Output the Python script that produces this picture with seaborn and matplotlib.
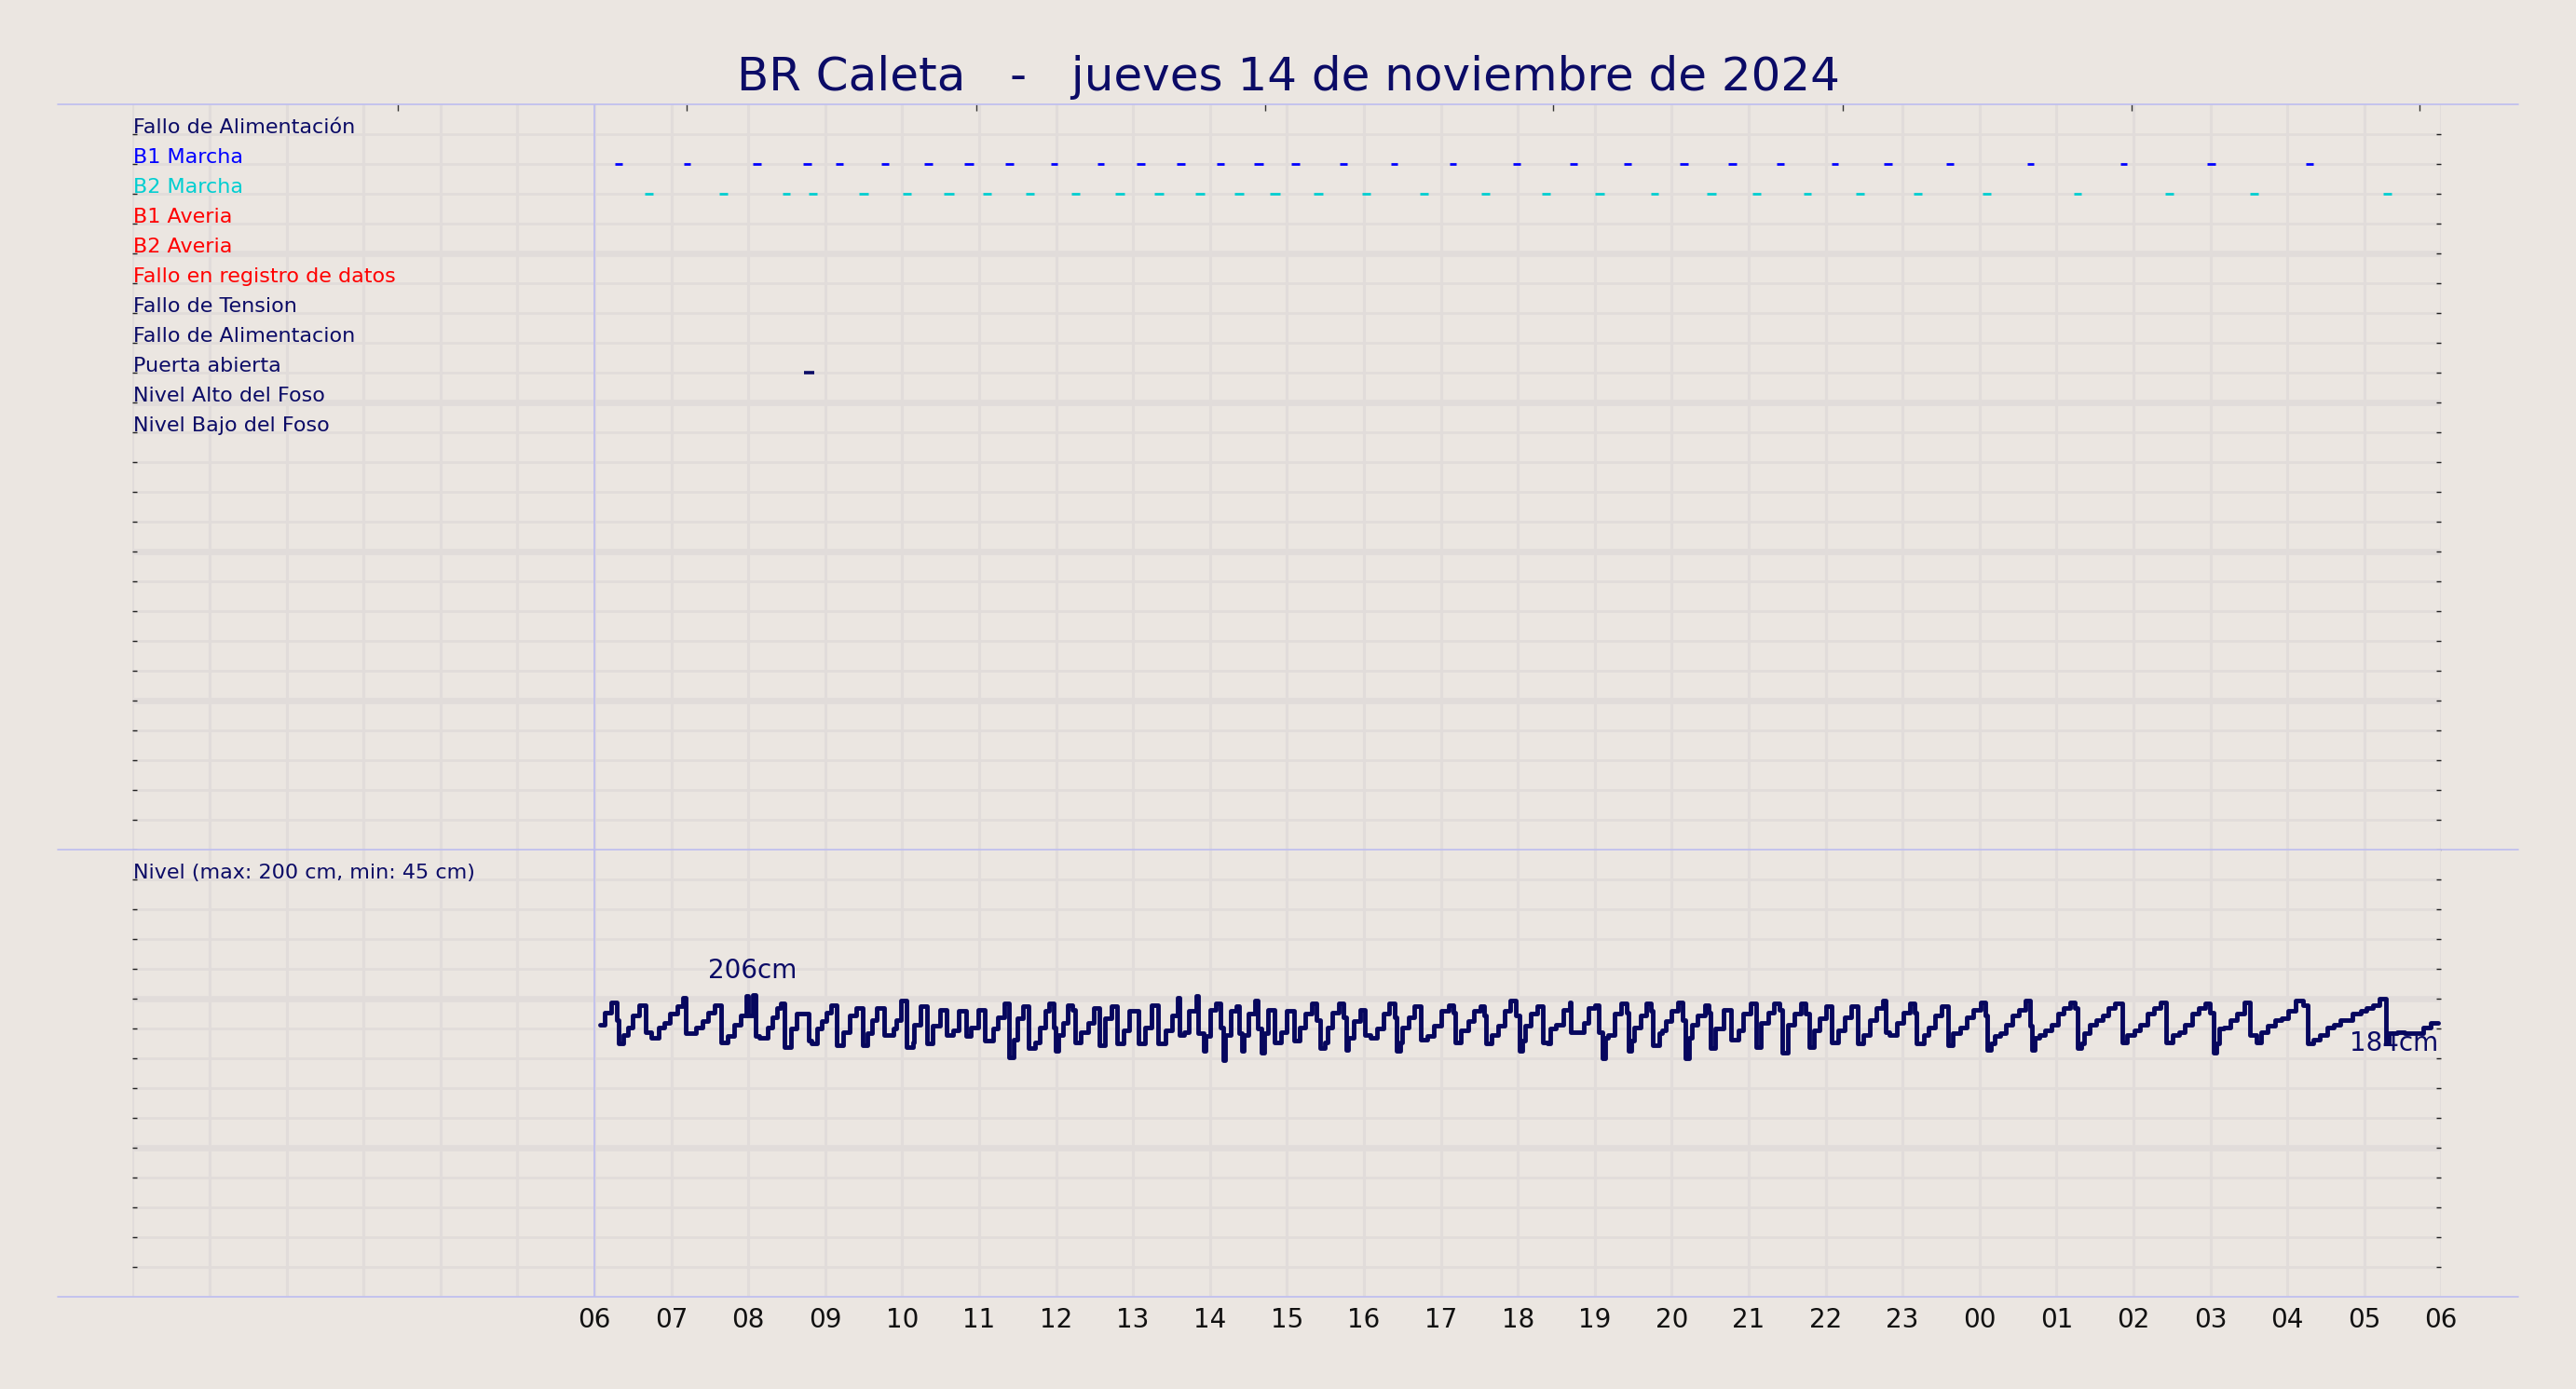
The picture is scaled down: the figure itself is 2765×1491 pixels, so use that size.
import matplotlib
matplotlib.use("Agg")
import matplotlib.pyplot as plt
from matplotlib.lines import Line2D
import seaborn as sns
import numpy as np
import pandas as pd

# ---------------- data ----------------
title = "BR Caleta   -   jueves 14 de noviembre de 2024"

channel_labels = ["Fallo de Alimentación", "B1 Marcha", "B2 Marcha", "B1 Averia",
                  "B2 Averia", "Fallo en registro de datos", "Fallo de Tension",
                  "Fallo de Alimentacion", "Puerta abierta", "Nivel Alto del Foso",
                  "Nivel Bajo del Foso"]
channel_colors = ["#0B0B66", "#0000FF", "#00CED1", "#FF0000", "#FF0000", "#FF0000",
                  "#0B0B66", "#0B0B66", "#0B0B66", "#0B0B66", "#0B0B66"]

hour_labels = ["06", "07", "08", "09", "10", "11", "12", "13", "14", "15", "16", "17",
               "18", "19", "20", "21", "22", "23", "00", "01", "02", "03", "04", "05", "06"]

# pump runs: centre (minutes after 06:00) and duration (minutes)
b1_center = [19.0, 72.2, 126.9, 166.2, 191.2, 226.9, 260.7, 292.2, 323.6, 358.4, 394.9,
             426.0, 457.4, 488.0, 518.1, 546.8, 584.3, 623.7, 669.5, 719.0, 763.6, 805.8,
             849.8, 887.4, 925.0, 967.2, 1008.9, 1057.1, 1119.7, 1192.5, 1260.7, 1337.2]
b1_dur = [5.6, 5.6, 6.5, 6.5, 5.6, 5.6, 6.5, 7.4, 6.5, 5.6, 5.6, 6.5, 6.5, 5.6, 7.4, 6.5,
          5.6, 5.6, 5.6, 5.6, 5.6, 5.6, 6.5, 6.5, 5.6, 5.6, 6.5, 5.6, 5.6, 5.6, 6.5, 5.6]
b2_center = [42.6, 100.9, 149.5, 170.4, 210.2, 244.0, 276.4, 306.5, 339.8, 375.5, 409.8,
             440.3, 472.3, 502.8, 530.6, 564.4, 601.9, 646.8, 694.5, 742.3, 784.0, 826.7,
             871.2, 905.9, 945.8, 986.6, 1031.6, 1085.9, 1156.3, 1227.8, 1294.1, 1397.9]
b2_dur = [6.5, 6.5, 5.6, 6.5, 7.4, 6.5, 7.4, 6.5, 6.5, 6.5, 7.4, 7.4, 7.4, 7.4, 8.3, 7.4,
          6.5, 6.5, 6.5, 6.5, 7.4, 6.5, 7.4, 6.5, 6.5, 6.5, 6.5, 6.5, 5.6, 6.5, 6.5, 6.5]
door_center = [167.4]
door_dur = [8.4]

# level (minutes after 06:00, cm)
level_min = [
    4.1, 7.8, 13.1, 17.5, 18.9, 22.3, 25.9, 29.6, 34.9, 39.8,
    44.1, 50.4, 54.3, 59.1, 64.7, 69.1, 71.3, 79.3, 84.1, 88.9,
    93.8, 98.6, 104.2, 109.1, 113.9, 118.5, 120.2, 123.6, 125.8, 128.9,
    135.0, 138.6, 142.3, 145.4, 148.3, 153.2, 158.0, 167.2, 169.6, 173.8,
    177.4, 181.0, 184.7, 189.0, 194.3, 199.2, 204.0, 208.9, 212.5, 216.2,
    219.8, 225.8, 233.1, 235.5, 239.2, 243.3, 248.1, 249.1, 253.9, 259.0,
    263.6, 269.4, 274.8, 279.6, 284.0, 290.0, 293.7, 299.0, 304.6, 310.6,
    314.5, 319.4, 323.2, 327.1, 330.0, 333.9, 338.7, 343.6, 347.0, 351.8,
    354.7, 358.1, 359.6, 362.0, 365.4, 369.3, 372.7, 375.1, 379.4, 384.8,
    389.6, 394.0, 397.9, 403.2, 407.5, 412.4, 417.2, 424.5, 429.4, 434.7,
    439.5, 445.4, 450.2, 454.6, 456.0, 459.9, 463.8, 469.3, 470.5, 475.4,
    476.7, 480.4, 484.2, 488.1, 490.1, 492.0, 496.4, 500.2, 502.7, 504.6,
    506.5, 509.9, 514.8, 517.2, 520.3, 522.0, 525.4, 530.3, 535.1, 540.0,
    545.8, 549.7, 554.5, 559.4, 563.2, 565.7, 569.5, 571.5, 575.3, 580.2,
    584.1, 586.0, 588.0, 591.8, 597.2, 600.5, 605.4, 610.2, 615.1, 620.0,
    623.8, 625.8, 628.2, 630.1, 635.0, 639.3, 644.6, 649.5, 654.3, 660.2,
    666.0, 669.9, 671.3, 675.7, 681.5, 685.4, 690.7, 694.1, 695.5, 699.9,
    704.7, 709.6, 714.4, 718.3, 721.2, 723.2, 725.6, 730.0, 735.3, 739.7,
    743.5, 745.5, 749.8, 755.2, 760.5, 761.5, 771.2, 775.0, 780.4, 783.3,
    785.7, 788.1, 790.5, 795.4, 800.2, 804.6, 806.0, 808.5, 810.9, 815.7,
    820.1, 824.0, 825.4, 830.3, 832.7, 835.6, 840.0, 844.8, 848.7, 850.6,
    853.5, 855.5, 860.3, 865.6, 869.0, 870.5, 873.9, 880.2, 886.0, 892.3,
    895.7, 901.5, 905.9, 909.8, 915.1, 919.9, 923.8, 926.2, 930.6, 935.9,
    940.8, 944.6, 947.1, 950.9, 955.3, 960.2, 965.0, 969.9, 974.7, 979.6,
    984.9, 989.2, 994.6, 999.4, 1004.8, 1006.7, 1010.1, 1015.9, 1020.7, 1025.6,
    1029.5, 1030.9, 1036.5, 1040.6, 1045.0, 1050.3, 1055.2, 1059.5, 1064.8, 1069.7,
    1075.0, 1080.8, 1084.2, 1086.2, 1089.1, 1091.5, 1095.9, 1100.2, 1105.6, 1110.9,
    1115.7, 1119.1, 1121.1, 1123.0, 1126.4, 1131.2, 1136.1, 1140.9, 1145.8, 1150.6,
    1154.5, 1156.4, 1159.3, 1161.8, 1166.1, 1171.0, 1175.8, 1180.7, 1185.5, 1191.3,
    1195.2, 1200.6, 1205.4, 1211.2, 1216.1, 1220.9, 1225.8, 1230.6, 1235.4, 1240.3,
    1245.6, 1251.0, 1255.8, 1259.7, 1262.6, 1265.0, 1267.0, 1270.8, 1275.7, 1280.5,
    1286.3, 1291.2, 1296.0, 1299.9, 1304.7, 1310.6, 1315.4, 1320.3, 1326.6, 1332.4,
    1336.2, 1340.1, 1345.5, 1350.8, 1356.6, 1361.4, 1371.1, 1377.0, 1381.8, 1386.6,
    1392.0, 1396.8, 1399.2, 1405.5, 1411.8, 1425.9, 1431.7, 1437.5]
level_cm = [
    183, 191, 198, 186, 170, 176, 181, 189, 196, 178,
    174, 181, 184, 190, 195, 201, 177, 181, 185, 191,
    196, 171, 175, 183, 189, 202, 189, 203, 175, 174,
    181, 188, 194, 197, 168, 180, 190, 172, 170, 180,
    185, 191, 196, 169, 178, 189, 194, 169, 177, 186,
    194, 176, 180, 186, 199, 168, 171, 183, 195, 170,
    182, 193, 176, 179, 192, 175, 181, 193, 172, 180,
    188, 197, 161, 173, 187, 195, 167, 171, 181, 192,
    197, 181, 165, 176, 184, 196, 193, 171, 178, 184,
    194, 169, 187, 195, 170, 179, 192, 170, 181, 196,
    170, 179, 189, 201, 176, 178, 192, 202, 177, 165,
    175, 193, 197, 181, 159, 176, 192, 195, 177, 165,
    176, 190, 199, 180, 164, 177, 193, 171, 178, 192,
    172, 181, 190, 197, 186, 167, 171, 181, 191, 197,
    188, 166, 174, 185, 193, 176, 174, 180, 190, 197,
    188, 165, 171, 181, 188, 195, 173, 175, 182, 192,
    196, 191, 171, 179, 185, 192, 195, 189, 170, 176,
    182, 192, 199, 189, 165, 172, 182, 190, 195, 171,
    170, 180, 183, 193, 198, 178, 184, 194, 196, 178,
    160, 174, 176, 190, 197, 191, 165, 172, 181, 189,
    197, 192, 169, 177, 179, 185, 192, 198, 186, 160,
    174, 183, 189, 196, 191, 167, 180, 193, 173, 179,
    190, 197, 168, 184, 191, 197, 193, 164, 183, 190,
    197, 190, 168, 179, 187, 195, 171, 179, 188, 195,
    170, 176, 186, 194, 199, 178, 176, 184, 191, 197,
    191, 170, 176, 181, 189, 195, 169, 177, 181, 188,
    193, 198, 189, 166, 170, 175, 177, 183, 189, 193,
    199, 182, 166, 174, 176, 179, 183, 190, 194, 198,
    194, 167, 170, 177, 183, 186, 189, 194, 197, 171,
    176, 179, 183, 190, 194, 198, 171, 176, 178, 183,
    190, 194, 197, 191, 164, 170, 180, 181, 186, 190,
    198, 176, 171, 178, 182, 186, 187, 192, 199, 196,
    170, 173, 176, 181, 183, 186, 190, 192, 194, 196,
    200, 170, 177, 178, 177, 181, 184, 184]

level_title = "Nivel (max: 200 cm, min: 45 cm)"
peak_text = "206cm"
last_text = "184cm"
top_ticks = [3.45, 7.20, 10.96, 14.72, 18.46, 22.22, 25.98, 29.72]  # hours from 00:00

# ---------------- style ----------------
BG = "#EBE6E1"
GRID = "#E1DCDA"
NAVY = "#0B0B66"
LINE = "#07075E"
LAV = "#BDBDF0"

sns.set_theme(style="white", rc={"figure.facecolor": BG, "axes.facecolor": BG})
plt.rcParams["font.family"] = ["DejaVu Sans"]

W, H = 2765, 1491
fig = plt.figure(figsize=(W / 100, H / 100), dpi=100)
L, R = 142.4 / W, 2620.3 / W
y_top, y_mid, y_bot = 1 - 112.3 / H, 1 - 912.3 / H, 1 - 1392.3 / H
ax1 = fig.add_axes([L, y_mid, R - L, y_top - y_mid])
ax2 = fig.add_axes([L, y_bot, R - L, y_mid - y_bot])

for ax in (ax1, ax2):
    ax.set_facecolor(BG)
    for s in ax.spines.values():
        s.set_visible(False)
    ax.set_xlim(0, 30)
    for h in range(0, 31):
        ax.axvline(h, color=GRID, lw=2.3, zorder=0)
    ax.axvline(6, color=LAV, lw=1.2, zorder=1)

# ---- top panel (events) ----
ax1.set_ylim(25, 0)
for r in range(1, 25):
    ax1.axhline(r, color=GRID, lw=4.8 if r % 5 == 0 else 2.0, zorder=0)
ax1.set_yticks(range(1, 26))
ax1.set_yticklabels([])
ax1.tick_params(axis="y", left=True, right=True, direction="in", length=3.5,
                width=1, color="#222222")
ax1.set_xticks(top_ticks)
ax1.set_xticklabels([])
ax1.tick_params(axis="x", top=True, bottom=False, direction="in", length=5,
                width=1, color="#333333")

for i, (lab, col) in enumerate(zip(channel_labels, channel_colors)):
    ax1.text(0.005, i + 1 - 0.03, lab, color=col, fontsize=16, ha="left", va="baseline")


def draw_runs(centers, durs, row, color, lw):
    c = np.array(centers)
    d = np.array(durs)
    x0 = 6 + (c - d / 2) / 60
    x1 = 6 + (c + d / 2) / 60
    ax1.hlines([row] * len(c), x0, x1, colors=color, lw=lw, capstyle="butt", zorder=3)


draw_runs(b1_center, b1_dur, 2, "#0000FF", 2.0)
draw_runs(b2_center, b2_dur, 3, "#00CED1", 2.0)
draw_runs(door_center, door_dur, 9, NAVY, 2.6)

# ---- bottom panel (level) ----
ax2.set_ylim(0, 300)
for v in range(20, 300, 20):
    ax2.axhline(v, color=GRID, lw=4.8 if v % 100 == 0 else 2.0, zorder=0)
ax2.set_yticks(range(20, 300, 20))
ax2.set_yticklabels([])
ax2.tick_params(axis="y", left=True, right=True, direction="in", length=3.5,
                width=1, color="#222222")
ax2.set_xticks(range(6, 31))
ax2.set_xticklabels(hour_labels, fontsize=20, color="#111111")
ax2.tick_params(axis="x", bottom=True, length=0, pad=8)

df = pd.DataFrame({"hora": 6 + np.array(level_min) / 60.0, "nivel": level_cm})
sns.lineplot(data=df, x="hora", y="nivel", ax=ax2, color=LINE, lw=3.5,
             drawstyle="steps-post", estimator=None, sort=False, zorder=4)
ax2.set_xlabel("")
ax2.set_ylabel("")
ax2.set_xlim(0, 30)
ax2.set_ylim(0, 300)

ax2.text(0.005, 280 + 0.6, level_title, color=NAVY, fontsize=16, ha="left", va="baseline")

ipk = int(np.argmax(df["nivel"].values))
ax2.annotate(peak_text, xy=(df["hora"].iloc[ipk], df["nivel"].iloc[ipk]), xytext=(0, 8),
             textcoords="offset points", ha="center", va="bottom", fontsize=20, color=NAVY)
ax2.annotate(last_text, xy=(df["hora"].iloc[-1], df["nivel"].iloc[-1]), xytext=(0, -6),
             textcoords="offset points", ha="right", va="top", fontsize=20, color=NAVY)

# ---- frame lines & title ----
for yf in (y_top, y_mid, y_bot):
    fig.add_artist(Line2D([62 / W, 2703 / W], [yf, yf], color=LAV, lw=1.2,
                          transform=fig.transFigure))

fig.text(0.5, 1 - 83 / H, title, fontsize=36, color=NAVY, ha="center", va="center")

fig.savefig("out.png", dpi=100, facecolor=BG)
